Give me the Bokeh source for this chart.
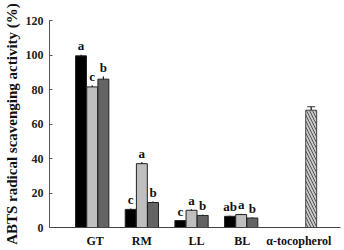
from bokeh.plotting import figure
from bokeh.models import FixedTicker, Range1d, ColumnDataSource, Whisker, TeeHead
from bokeh.core.properties import value
from bokeh.embed import file_html
from bokeh.resources import INLINE

groups = ["GT", "RM", "LL", "BL", "α-tocopherol"]
black_vals = [99.5, 10.5, 4.0, 6.5]
light_vals = [81.5, 37.0, 10.0, 7.5]
dark_vals = [86.0, 14.5, 7.0, 5.5]
black_err = [0.6, 0.4, 0.3, 0.3]
light_err = [0.8, 0.8, 0.5, 0.4]
dark_err = [1.5, 0.5, 0.4, 0.3]
black_let = ["a", "c", "c", "ab"]
light_let = ["c", "a", "a", "a"]
dark_let = ["b", "b", "b", "b"]
toc_val = [68.0]
toc_err = [2.0]
y_ticks = [0, 20, 40, 60, 80, 100, 120]

FONT = "Liberation Serif"

p = figure(width=344, height=250, output_backend="svg", toolbar_location=None,
           x_range=Range1d(0.14, 6.0), y_range=Range1d(0, 120),
           min_border_left=47, min_border_right=4, min_border_top=20, min_border_bottom=20)
p.xgrid.visible = False
p.ygrid.visible = False
p.outline_line_color = None
p.background_fill_color = "white"

centers = [1, 2, 3, 4]
w = 0.22
off = 0.225
series = [(black_vals, black_err, black_let, "#000000", -off),
          (light_vals, light_err, light_let, "#bfbfbf", 0.0),
          (dark_vals, dark_err, dark_let, "#646464", off)]
for vals, errs, lets, col, o in series:
    xs = [c + o for c in centers]
    src = ColumnDataSource(dict(x=xs, top=vals, up=[v + e for v, e in zip(vals, errs)],
                                lo=[v - e for v, e in zip(vals, errs)], lab=lets,
                                ty=[v + e + 0.8 for v, e in zip(vals, errs)]))
    p.vbar(x="x", top="top", width=w, source=src, fill_color=col, line_color="#222222", line_width=1)
    p.add_layout(Whisker(base="x", upper="up", lower="lo", source=src, line_color="#222222",
                         upper_head=None, lower_head=None))
    p.segment(x0="x", x1="x", y0="top", y1="up", source=src, line_color="#222222")
    p.text(x="x", y="ty", text="lab", source=src, text_font=value(FONT), text_font_style="bold",
           text_font_size="13px", text_align="center", text_baseline="bottom", text_color="#111111")

tx = 5.41
tsrc = ColumnDataSource(dict(x=[tx], top=toc_val, up=[toc_val[0] + toc_err[0]],
                             lo=[toc_val[0] - toc_err[0]]))
p.vbar(x="x", top="top", width=w, source=tsrc, fill_color="#c8c8c8", line_color="#444444",
       hatch_pattern="left_diagonal_line", hatch_color="#555555", hatch_scale=6, hatch_weight=1)
p.segment(x0="x", x1="x", y0="top", y1="up", source=tsrc, line_color="#333333")
p.add_layout(Whisker(base="x", upper="up", lower="lo", source=tsrc, line_color="#333333",
                     upper_head=TeeHead(size=8, line_color="#333333"),
                     lower_head=TeeHead(size=8, line_color="#333333")))

# axes
p.yaxis.ticker = FixedTicker(ticks=y_ticks)
p.yaxis.major_label_text_font = FONT
p.yaxis.major_label_text_font_style = "bold"
p.yaxis.major_label_text_font_size = "12px"
p.yaxis.major_label_text_color = "#222222"
p.yaxis.major_tick_in = 3
p.yaxis.major_tick_out = 0
p.yaxis.minor_tick_line_color = None
p.yaxis.axis_line_color = "#555555"
p.yaxis.major_tick_line_color = "#555555"
p.yaxis.major_label_standoff = 6
p.yaxis.axis_label = "ABTS radical scavenging activity (%)"
p.yaxis.axis_label_text_font = FONT
p.yaxis.axis_label_text_font_style = "bold"
p.yaxis.axis_label_text_font_size = "15px"
p.yaxis.axis_label_text_color = "#111111"
p.yaxis.axis_label_standoff = 3

label_pos = [1.06, 2.0, 3.1, 4.02, 5.16]
p.xaxis.ticker = FixedTicker(ticks=label_pos)
p.xaxis.major_label_overrides = {t: g for t, g in zip(label_pos, groups)}
p.xaxis.major_label_text_font = FONT
p.xaxis.major_label_text_font_style = "bold"
p.xaxis.major_label_text_font_size = "12px"
p.xaxis.major_label_text_color = "#111111"
p.xaxis.major_tick_line_color = None
p.xaxis.major_tick_in = 0
p.xaxis.major_tick_out = 0
p.xaxis.minor_tick_line_color = None
p.xaxis.minor_tick_in = 0
p.xaxis.minor_tick_out = 0
p.xaxis.axis_line_color = "#444444"
p.xaxis.major_label_standoff = 6

open("out.html", "w").write(file_html(p, INLINE))
